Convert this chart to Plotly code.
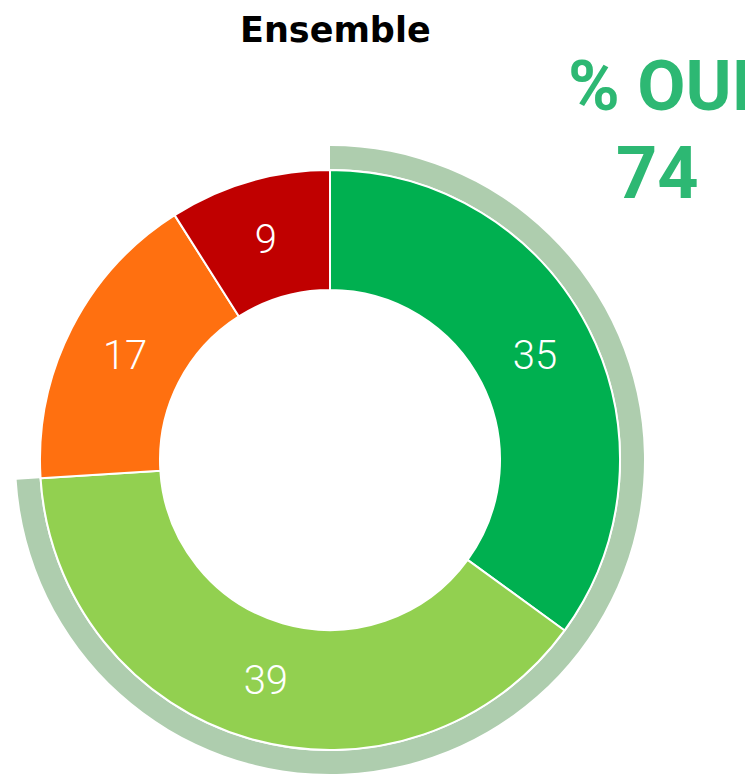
import plotly.graph_objects as go

categories = ["Oui, tout à fait", "Oui, plutôt", "Non, plutôt pas", "Non, pas du tout"]
values = [35, 39, 17, 9]
colors = ["#00B050", "#92D050", "#FF7010", "#C00000"]
oui_total = 74
ring_values = [oui_total, 100 - oui_total]
ring_labels = ["OUI", "reste"]

W, H = 753, 775
cx, cy = 322, 452
R, r_in = 290, 170
R_ring = 314

def dom(rad):
    return dict(x=[(cx - rad) / W, (cx + rad) / W],
                y=[(H - cy - rad) / H, (H - cy + rad) / H])

fig = go.Figure()
fig.add_trace(go.Pie(
    labels=ring_labels, values=ring_values, sort=False, direction="clockwise",
    rotation=0, hole=(R + 1) / R_ring, domain=dom(R_ring),
    marker=dict(colors=["#AECDAE", "rgba(0,0,0,0)"], line=dict(width=0)),
    textinfo="none", hoverinfo="skip", showlegend=False,
))
fig.add_trace(go.Pie(
    labels=categories, values=values, sort=False, direction="clockwise",
    rotation=0, hole=r_in / R, domain=dom(R),
    marker=dict(colors=colors, line=dict(color="white", width=2)),
    textinfo="value", textposition="inside", insidetextorientation="horizontal",
    textfont=dict(family="Roboto", size=40, color="white", weight=300),
    showlegend=False,
))
fig.add_annotation(text="<b>Ensemble</b>", x=327 / W, y=1, xref="paper", yref="paper",
                   showarrow=False, font=dict(family="DejaVu Sans", size=35, color="black"),
                   xanchor="center", yanchor="top")
fig.add_annotation(text="<b>% OUI</b>", x=652 / W, y=1 - 78 / H, xref="paper", yref="paper",
                   showarrow=False, font=dict(family="Roboto", size=70, color="#2DB873"),
                   xanchor="center", yanchor="middle")
fig.add_annotation(text=f"<b>{oui_total}</b>", x=649 / W, y=1 - 165 / H, xref="paper", yref="paper",
                   showarrow=False, font=dict(family="Roboto", size=72, color="#2DB873"),
                   xanchor="center", yanchor="middle")
fig.update_layout(width=W, height=H, margin=dict(l=0, r=0, t=0, b=0),
                  paper_bgcolor="white", plot_bgcolor="white")
fig.write_html("out.html")
